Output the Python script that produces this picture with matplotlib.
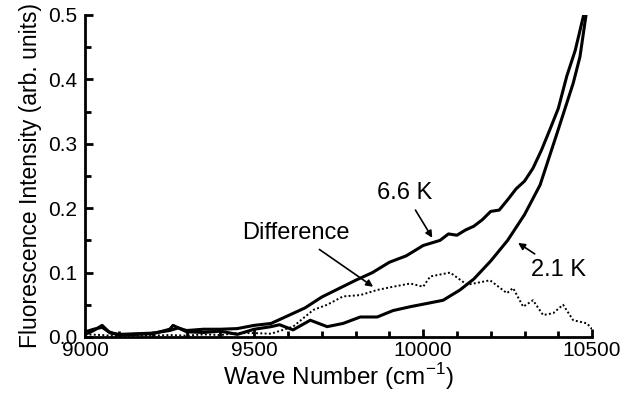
import matplotlib
matplotlib.use("Agg")
import matplotlib.pyplot as plt
from matplotlib.ticker import MultipleLocator

plt.rcParams['font.family'] = ['Liberation Sans', 'DejaVu Sans']

# 6.6 K spectrum
x_66 = [9000, 9025, 9050, 9075, 9100, 9150, 9200, 9250, 9275, 9300, 9350, 9400,
        9450, 9500, 9550, 9600, 9650, 9700, 9750, 9800, 9850, 9900, 9950, 10000,
        10050, 10075, 10100, 10125, 10150, 10175, 10200, 10225, 10250, 10275,
        10300, 10325, 10350, 10375, 10400, 10425, 10450, 10475]
y_66 = [0.008, 0.012, 0.015, 0.006, 0.004, 0.005, 0.006, 0.010, 0.014, 0.010, 0.012, 0.012,
        0.013, 0.018, 0.021, 0.033, 0.045, 0.062, 0.075, 0.088, 0.100, 0.116, 0.126, 0.142,
        0.150, 0.160, 0.158, 0.166, 0.172, 0.182, 0.195, 0.197, 0.213, 0.230,
        0.242, 0.262, 0.290, 0.322, 0.355, 0.405, 0.445, 0.500]

# 2.1 K spectrum
x_21 = [9000, 9025, 9050, 9070, 9100, 9150, 9200, 9250, 9260, 9300, 9350, 9400,
        9450, 9500, 9550, 9575, 9615, 9666, 9716, 9763, 9814, 9864, 9911, 9962,
        10011, 10059, 10109, 10150, 10200, 10250, 10300, 10346, 10396, 10444,
        10464, 10482]
y_21 = [0.004, 0.010, 0.018, 0.008, 0.003, 0.004, 0.005, 0.012, 0.018, 0.008, 0.007, 0.009,
        0.004, 0.012, 0.016, 0.019, 0.011, 0.026, 0.016, 0.021, 0.031, 0.031, 0.041, 0.047,
        0.052, 0.057, 0.073, 0.090, 0.118, 0.150, 0.190, 0.236, 0.316, 0.394,
        0.435, 0.500]

# difference
x_diff = [9000, 9050, 9100, 9150, 9200, 9250, 9300, 9350, 9400, 9450, 9500, 9550,
          9615, 9675, 9716, 9763, 9814, 9864, 9911, 9962, 10000, 10021, 10080,
          10130, 10198, 10248, 10266, 10296, 10325, 10355, 10385, 10414, 10444,
          10485, 10500]
y_diff = [0.004, 0.003, 0.001, 0.002, 0.002, 0.003, 0.002, 0.004, 0.003, 0.006, 0.006, 0.005,
          0.016, 0.042, 0.050, 0.063, 0.065, 0.073, 0.078, 0.083, 0.078, 0.094, 0.100,
          0.081, 0.088, 0.068, 0.076, 0.047, 0.057, 0.034, 0.037, 0.050, 0.026,
          0.021, 0.012]

fig = plt.figure(figsize=(6.36, 4.05), dpi=100)
ax = fig.add_axes([0.134, 0.168, 0.797, 0.795])

ax.plot(x_66, y_66, color='black', lw=2.2)
ax.plot(x_21, y_21, color='black', lw=2.2)
ax.plot(x_diff, y_diff, color='black', lw=1.4, ls=(0, (1, 1.2)))

ax.set_xlim(9000, 10500)
ax.set_ylim(0, 0.5)
ax.xaxis.set_major_locator(MultipleLocator(500))
ax.xaxis.set_minor_locator(MultipleLocator(100))
ax.yaxis.set_major_locator(MultipleLocator(0.1))
ax.yaxis.set_minor_locator(MultipleLocator(0.05))
ax.yaxis.set_major_formatter(matplotlib.ticker.FormatStrFormatter('%.1f'))

for s in ['top', 'right']:
    ax.spines[s].set_visible(False)
for s in ['left', 'bottom']:
    ax.spines[s].set_linewidth(2)
ax.tick_params(which='major', direction='in', length=6, width=2, labelsize=15)
ax.tick_params(axis='y', pad=6)
ax.tick_params(axis='x', pad=3)
ax.tick_params(which='minor', direction='in', length=4, width=2)

ax.set_xlabel('Wave Number (cm$^{\\mathregular{-1}}$)', fontsize=17.5, labelpad=1)
ax.set_ylabel('Fluorescence Intensity (arb. units)', fontsize=16.5, labelpad=4)

arrow = dict(arrowstyle='-|>', color='black', lw=1.2, mutation_scale=10, shrinkA=3, shrinkB=0)
ax.annotate('6.6 K', xy=(10027, 0.154), xytext=(9946, 0.224), fontsize=17,
            ha='center', va='center', arrowprops=arrow)
ax.annotate('Difference', xy=(9852, 0.078), xytext=(9624, 0.161), fontsize=17,
            ha='center', va='center', arrowprops=arrow)
ax.annotate('2.1 K', xy=(10281, 0.146), xytext=(10402, 0.104), fontsize=17,
            ha='center', va='center', arrowprops=arrow)

fig.savefig('out.png', dpi=100)
